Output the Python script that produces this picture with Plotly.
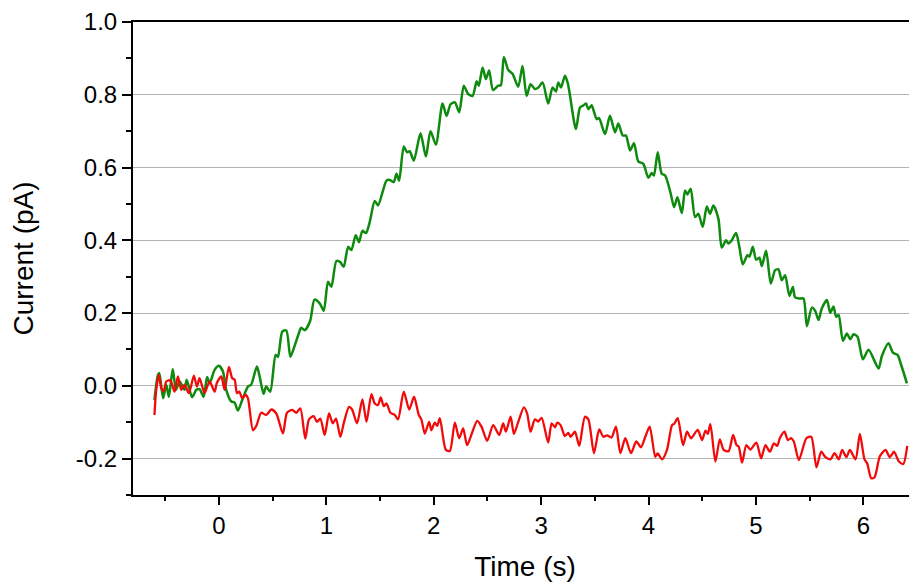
import plotly.graph_objects as go

# ---- data ----
green_t = [-0.60, -0.568, -0.555, -0.52, -0.49, -0.466, -0.43, -0.40, -0.366, -0.32, -0.30, -0.25, -0.21, -0.18,
           -0.143, -0.11, -0.087, -0.04, 0.0, 0.037, 0.068, 0.115, 0.146, 0.177, 0.217, 0.27, 0.30, 0.354, 0.385,
           0.416, 0.44, 0.478, 0.528, 0.55, 0.59, 0.628, 0.665, 0.705, 0.746, 0.766, 0.80, 0.85, 0.89, 0.94, 0.976,
           1.016, 1.047, 1.094, 1.13, 1.162, 1.203, 1.233, 1.274, 1.305, 1.336, 1.37, 1.404, 1.451, 1.482, 1.523,
           1.56, 1.59, 1.628, 1.653, 1.678, 1.721, 1.752, 1.776, 1.815, 1.877, 1.927, 1.97, 2.02, 2.082, 2.12, 2.157,
           2.197, 2.237, 2.28, 2.32, 2.362, 2.40, 2.42, 2.455, 2.486, 2.516, 2.552, 2.60, 2.625, 2.653, 2.694, 2.734,
           2.787, 2.827, 2.865, 2.902, 2.942, 2.975, 3.014, 3.066, 3.107, 3.138, 3.16, 3.185, 3.222, 3.25, 3.324,
           3.362, 3.39, 3.418, 3.44, 3.47, 3.517, 3.54, 3.595, 3.641, 3.688, 3.719, 3.76, 3.79, 3.828, 3.865, 3.905,
           3.952, 3.998, 4.03, 4.05, 4.086, 4.123, 4.155, 4.207, 4.238, 4.269, 4.31, 4.34, 4.362, 4.393, 4.433,
           4.464, 4.505, 4.543, 4.573, 4.604, 4.651, 4.682, 4.722, 4.744, 4.775, 4.815, 4.846, 4.878, 4.921, 4.94,
           4.971, 5.002, 5.033, 5.055, 5.095, 5.139, 5.179, 5.21, 5.241, 5.272, 5.312, 5.344, 5.365, 5.405, 5.443,
           5.475, 5.521, 5.552, 5.583, 5.614, 5.661, 5.692, 5.722, 5.747, 5.77, 5.81, 5.847, 5.878, 5.909, 5.946,
           5.996, 6.049, 6.142, 6.173, 6.235, 6.276, 6.319, 6.35, 6.406]
green_i = [-0.039, 0.03, 0.035, -0.034, 0.003, -0.03, 0.046, -0.011, 0.012, -0.011, 0.017, -0.031, -0.011, -0.009,
           -0.03, 0.024, 0.007, 0.044, 0.055, 0.04, -0.011, -0.043, -0.046, -0.068, -0.039, -0.002, 0.003, 0.053, 0.017,
           -0.022, -0.002, -0.016, 0.085, 0.08, 0.149, 0.152, 0.080, 0.11, 0.146, 0.16, 0.153, 0.179, 0.237, 0.226, 0.206,
           0.286, 0.272, 0.343, 0.340, 0.327, 0.382, 0.373, 0.414, 0.395, 0.426, 0.42, 0.45, 0.508, 0.496, 0.532,
           0.564, 0.566, 0.56, 0.583, 0.564, 0.658, 0.642, 0.645, 0.619, 0.694, 0.63, 0.70, 0.663, 0.776, 0.742, 0.774,
           0.779, 0.752, 0.825, 0.802, 0.797, 0.837, 0.825, 0.875, 0.843, 0.867, 0.813, 0.825, 0.826, 0.904, 0.868, 0.858,
           0.822, 0.879, 0.797, 0.829, 0.816, 0.82, 0.834, 0.776, 0.82, 0.809, 0.834, 0.82, 0.852, 0.83, 0.706,
           0.765, 0.77, 0.776, 0.76, 0.771, 0.733, 0.736, 0.692, 0.742, 0.697, 0.721, 0.688, 0.688, 0.647, 0.667, 0.617,
           0.61, 0.572, 0.585, 0.578, 0.642, 0.583, 0.578, 0.528, 0.491, 0.518, 0.475, 0.537, 0.526, 0.542, 0.464,
           0.473, 0.437, 0.493, 0.473, 0.496, 0.459, 0.38, 0.40, 0.391, 0.40, 0.42, 0.382, 0.334, 0.359, 0.355,
           0.382, 0.347, 0.352, 0.329, 0.371, 0.281, 0.318, 0.32, 0.29, 0.304, 0.247, 0.272, 0.243, 0.24, 0.24,
           0.164, 0.215, 0.206, 0.181, 0.213, 0.236, 0.201, 0.218, 0.19, 0.195, 0.124, 0.144, 0.128, 0.142, 0.135,
           0.073, 0.099, 0.048, 0.082, 0.117, 0.091, 0.085, 0.06, 0.007]

red_t = [-0.60, -0.584, -0.559, -0.537, -0.515, -0.49, -0.453, -0.413, -0.382, -0.351, -0.32, -0.28, -0.233, -0.205,
         -0.18, -0.134, -0.087, -0.04, -0.02, 0.022, 0.053, 0.093, 0.124, 0.146, 0.168, 0.19, 0.217, 0.248, 0.27,
         0.317, 0.348, 0.394, 0.441, 0.488, 0.534, 0.596, 0.634, 0.683, 0.72, 0.758, 0.804, 0.839, 0.882, 0.913,
         0.944, 0.985, 1.025, 1.06, 1.09, 1.131, 1.162, 1.212, 1.24, 1.286, 1.336, 1.374, 1.42, 1.45, 1.48, 1.507,
         1.535, 1.56, 1.597, 1.637, 1.668, 1.721, 1.772, 1.817, 1.861, 1.885, 1.917, 1.957, 1.978, 2.01, 2.032,
         2.057, 2.113, 2.15, 2.197, 2.237, 2.274, 2.311, 2.361, 2.405, 2.445, 2.498, 2.554, 2.61, 2.647, 2.672,
         2.716, 2.747, 2.787, 2.84, 2.87, 2.902, 2.942, 2.973, 3.005, 3.066, 3.098, 3.13, 3.15, 3.181, 3.222, 3.253,
         3.275, 3.315, 3.355, 3.408, 3.44, 3.492, 3.541, 3.579, 3.615, 3.655, 3.697, 3.738, 3.784, 3.837, 3.886,
         3.93, 3.97, 4.011, 4.063, 4.085, 4.126, 4.172, 4.219, 4.24, 4.272, 4.322, 4.359, 4.396, 4.458, 4.499,
         4.53, 4.552, 4.576, 4.623, 4.664, 4.70, 4.745, 4.788, 4.82, 4.84, 4.871, 4.911, 4.948, 5.004, 5.049,
         5.089, 5.13, 5.167, 5.198, 5.223, 5.266, 5.297, 5.328, 5.353, 5.40, 5.47, 5.515, 5.564, 5.608, 5.648,
         5.695, 5.732, 5.772, 5.803, 5.843, 5.875, 5.928, 5.968, 6.011, 6.036, 6.074, 6.105, 6.155, 6.207, 6.247,
         6.285, 6.332, 6.372, 6.409]
red_i = [-0.08, -0.011, 0.03, -0.006, -0.015, 0.012, 0.015, -0.016, 0.026, -0.011, 0.003, -0.02, 0.028, -0.002,
         0.021, -0.02, 0.012, -0.016, 0.007, 0.026, -0.011, 0.052, 0.021, 0.017, -0.02, -0.016, -0.034, -0.025, -0.034,
         -0.122, -0.11, -0.074, -0.08, -0.065, -0.076, -0.131, -0.074, -0.066, -0.074, -0.062, -0.145, -0.092, -0.083, -0.099,
         -0.09, -0.135, -0.076, -0.103, -0.09, -0.14, -0.103, -0.058, -0.065, -0.103, -0.037, -0.099, -0.023, -0.048, -0.053, -0.032,
         -0.056, -0.048, -0.074, -0.08, -0.092, -0.016, -0.065, -0.03, -0.08, -0.092, -0.131, -0.099, -0.122, -0.101, -0.11,
         -0.089, -0.176, -0.179, -0.101, -0.144, -0.117, -0.163, -0.126, -0.096, -0.112, -0.151, -0.108, -0.135, -0.103, -0.126,
         -0.085, -0.132, -0.099, -0.059, -0.076, -0.126, -0.092, -0.098, -0.088, -0.156, -0.103, -0.114, -0.101, -0.108, -0.138, -0.129,
         -0.14, -0.126, -0.165, -0.085, -0.092, -0.185, -0.12, -0.14, -0.136, -0.142, -0.112, -0.185, -0.144, -0.185, -0.153,
         -0.169, -0.14, -0.112, -0.195, -0.186, -0.202, -0.176, -0.108, -0.104, -0.089, -0.163, -0.126, -0.144, -0.121, -0.149,
         -0.123, -0.132, -0.105, -0.208, -0.147, -0.176, -0.18, -0.135, -0.163, -0.167, -0.211, -0.163, -0.175, -0.156, -0.199,
         -0.163, -0.181, -0.158, -0.165, -0.144, -0.126, -0.149, -0.144, -0.153, -0.204, -0.144, -0.14, -0.224, -0.181, -0.196,
         -0.202, -0.185, -0.202, -0.176, -0.196, -0.176, -0.202, -0.132, -0.202, -0.213, -0.254, -0.251, -0.193, -0.176, -0.196,
         -0.181, -0.208, -0.215, -0.165]

x_ticks = [0, 1, 2, 3, 4, 5, 6]
x_tick_labels = ["0", "1", "2", "3", "4", "5", "6"]
y_ticks = [-0.2, 0.0, 0.2, 0.4, 0.6, 0.8, 1.0]
y_tick_labels = ["-0.2", "0.0", "0.2", "0.4", "0.6", "0.8", "1.0"]

FONT = "Liberation Sans, Arial, sans-serif"

fig = go.Figure()
fig.add_trace(go.Scatter(x=green_t, y=green_i, mode="lines",
                         line=dict(color="#0e8a0e", width=2.5, shape="spline", smoothing=0.7),
                         showlegend=False))
fig.add_trace(go.Scatter(x=red_t, y=red_i, mode="lines",
                         line=dict(color="#f20a0a", width=2.3, shape="spline", smoothing=0.7),
                         showlegend=False))

# the page body has an 8px margin, so the figure is sized/positioned to compensate
fig.update_layout(
    width=909, height=577,
    margin=dict(l=125, r=0, t=14, b=90),
    paper_bgcolor="white", plot_bgcolor="white",
    font=dict(family=FONT, color="black"),
    xaxis=dict(
        range=[-0.8, 6.5], tickvals=x_ticks, ticktext=x_tick_labels,
        showgrid=False, zeroline=False,
        showline=True, linecolor="black", linewidth=2, mirror=True,
        ticks="outside", ticklen=8, tickwidth=1.5, tickcolor="black",
        tickfont=dict(size=24),
        minor=dict(dtick=0.5, tick0=0, ticks="outside", ticklen=4, tickwidth=1.5, tickcolor="black", showgrid=False),
        title=dict(text="Time (s)", font=dict(size=28), standoff=19),
    ),
    yaxis=dict(
        range=[-0.3, 1.0], tickvals=y_ticks, ticktext=y_tick_labels,
        showgrid=True, gridcolor="#b4b4b4", gridwidth=1, zeroline=False,
        showline=True, linecolor="black", linewidth=2, mirror=False,
        ticks="outside", ticklen=9, tickwidth=1.5, tickcolor="black",
        tickfont=dict(size=24),
        minor=dict(dtick=0.1, tick0=0, ticks="outside", ticklen=5, tickwidth=1.5, tickcolor="black", showgrid=False),
        title=dict(text="Current (pA)", font=dict(size=28), standoff=34),
    ),
)

fig.write_html("out.html")
